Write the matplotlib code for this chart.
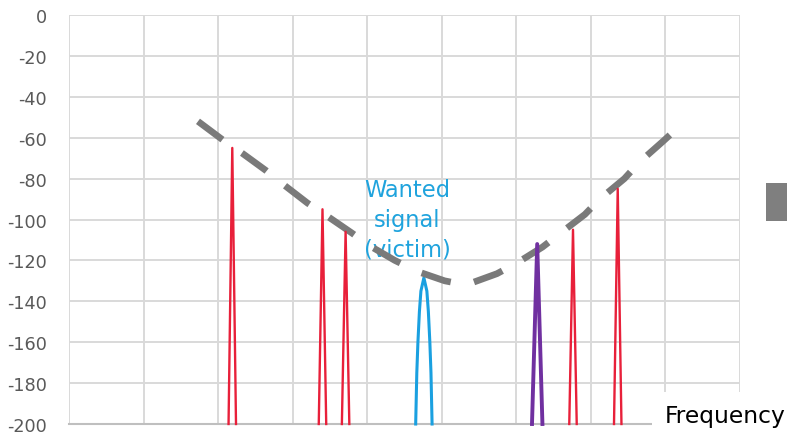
import matplotlib
matplotlib.use("Agg")
import matplotlib.pyplot as plt
from matplotlib.patches import Rectangle

plt.rcParams['font.family'] = ['DejaVu Sans']
plt.rcParams['lines.scale_dashes'] = False

# Interfering spurs (red): centre frequency and peak level
red_pos = [2.19, 3.40, 3.71, 6.76, 7.36]
red_level = [-65, -95, -106, -105, -85]
red_halfwidth = 0.05

# Strong adjacent interferer (purple)
purple_pos = 6.28
purple_level = -112
purple_halfwidth = 0.07

# Wanted signal (victim) spectrum shape: offsets from centre and levels
victim_pos = 4.76
victim_offset = [-0.11, -0.095, -0.08, -0.06, -0.04, 0.0, 0.04, 0.06, 0.08, 0.095, 0.11]
victim_level = [-200, -175, -160, -145, -135, -128.5, -135, -145, -160, -175, -200]

# Receiver selectivity / blocking mask (dashed)
mask_x = [1.73, 2.06, 2.32, 2.64, 2.88, 3.20, 3.47, 3.79, 4.04, 4.37, 4.68, 5.04,
          5.25, 5.40, 5.74, 6.02, 6.35, 6.58, 6.92, 7.12, 7.45, 7.65, 7.96, 8.23]
mask_y = [-52, -61, -67.5, -76, -83, -92, -98.5, -106.5, -113, -120, -125.5, -130,
          -131.5, -131, -126.5, -121, -113.5, -107, -97.5, -90, -80, -72, -62, -53]

y_ticks = list(range(-200, 1, 20))

W, H = 787, 435
fig = plt.figure(figsize=(W / 100, H / 100), dpi=100)
ax = fig.add_axes([69 / W, 10 / H, 671 / W, 409 / H])

ax.set_xlim(0, 9)
ax.set_ylim(-200, 0)
ax.set_yticks(y_ticks)
ax.set_yticklabels([str(v) for v in y_ticks])
ax.set_xticks(range(0, 10))
ax.set_xticklabels([])
ax.tick_params(axis='both', length=0, colors='#595959', labelsize=12.7, pad=16)
ax.grid(True, color='#d9d9d9', linewidth=1.4)
ax.set_axisbelow(True)
for side in ['left', 'right', 'top']:
    ax.spines[side].set_visible(False)
ax.spines['bottom'].set_color('#bfbfbf')
ax.spines['bottom'].set_linewidth(1.5)

# wanted signal
vx = [victim_pos + o for o in victim_offset]
ax.plot(vx, victim_level, color='#1aa0e0', linewidth=2.2, zorder=3, clip_on=False)
ax.text(4.54, -100, 'Wanted\nsignal\n(victim)', color='#1fa3dd', fontsize=16.3,
        ha='center', va='center', linespacing=1.38, zorder=3)

# mask
ax.plot(mask_x, mask_y, color='#7a7a7a', linewidth=4.8, dashes=(22, 17),
        solid_capstyle='butt', dash_capstyle='butt', zorder=4)

# red spurs
for p, lv in zip(red_pos, red_level):
    ax.plot([p - red_halfwidth, p, p + red_halfwidth], [-200, lv, -200],
            color='#e8203a', linewidth=1.7, zorder=5, clip_on=False)

# purple interferer
ax.plot([purple_pos - purple_halfwidth, purple_pos, purple_pos + purple_halfwidth],
        [-200, purple_level, -200], color='#7030a0', linewidth=2.8, zorder=5,
        clip_on=False)

# label area at the lower right
fig.add_artist(Rectangle((652 / W, 0), (W - 652) / W, 42 / H, transform=fig.transFigure,
                         facecolor='white', edgecolor='none', zorder=5))
fig.text(665 / W, 12 / H, 'Frequency', fontsize=16.8, color='black', ha='left',
         va='baseline', zorder=6)

# legend key fragment at the right edge
fig.add_artist(Rectangle((766 / W, (H - 222) / H), 21 / W, 38 / H, transform=fig.transFigure,
                         facecolor='#7f7f7f', edgecolor='none', zorder=6))

fig.savefig('out.png', dpi=100)
